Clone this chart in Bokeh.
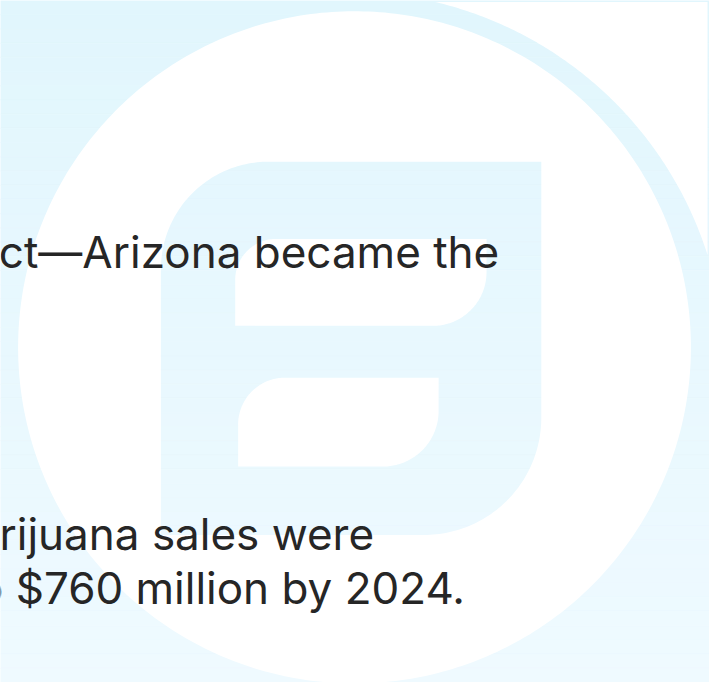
import numpy as np
from bokeh.plotting import figure
from bokeh.models import Range1d
from bokeh.core.properties import value
from bokeh.embed import file_html
from bokeh.resources import INLINE

# ---- content ----
text_lines = ["ct\u2014Arizona became the", "rijuana sales were", "o $760 million by 2024."]
text_end_x = [510, 382, 475]
text_baseline_y = [257, 546, 601]

# ---- shape parameters (reference pixel space, y downward) ----
ref_w, ref_h = 725, 698
fig_w, fig_h = 709, 682
disk_center = [362, 355]
disk_radius = 344
ring_center = [355, 377]
ring_radius = 386
corner_box = [355, 1.5, 723, 377]          # x0, y0, x1, y1 of white top-right area
a_outer = [164, 165, 553, 547, 110, 120]   # x0, y0, x1, y1, r_topleft, r_bottomright
a_hole_upper = [240, 244, 497, 333, 42, 55]
a_hole_lower = [243, 386, 448, 477, 48, 57]

BG_TOP = (225, 246, 253)
BG_BOTTOM = (239, 250, 255)
TEXT_COLOR = "#262626"
WHITE = "#ffffff"


def arc(cx, cy, r, t0, t1, n=120):
    t = np.linspace(t0, t1, n)
    return list(cx + r * np.cos(t)), list(cy + r * np.sin(t))


def circle_pts(cx, cy, r, n=400):
    return arc(cx, cy, r, 0, 2 * np.pi, n)


def rounded_rect(x0, y0, x1, y1, rtl, rbr):
    xs, ys = [x0 + rtl, x1, x1], [y0, y0, y1 - rbr]
    ax, ay = arc(x1 - rbr, y1 - rbr, rbr, 0, np.pi / 2, 60)
    xs += ax; ys += ay
    xs += [x0, x0]; ys += [y1, y0 + rtl]
    ax, ay = arc(x0 + rtl, y0 + rtl, rtl, np.pi, 1.5 * np.pi, 60)
    xs += ax; ys += ay
    return xs, ys


p = figure(width=fig_w, height=fig_h, output_backend="svg", toolbar_location=None,
           x_range=Range1d(0, ref_w), y_range=Range1d(ref_h, 0),
           min_border=0, outline_line_color=None)
p.axis.visible = False
p.grid.visible = False
p.background_fill_color = WHITE
p.border_fill_color = WHITE

# gradient background
n_bands = 48
edges = np.linspace(0, ref_h, n_bands + 1)
cols = []
for i in range(n_bands):
    f = (i + 0.5) / n_bands
    c = [int(round(BG_TOP[k] + (BG_BOTTOM[k] - BG_TOP[k]) * f)) for k in range(3)]
    cols.append("#%02x%02x%02x" % tuple(c))
p.quad(left=[0] * n_bands, right=[ref_w] * n_bands, top=list(edges[:-1]),
       bottom=list(edges[1:]), fill_color=cols, line_color=cols, line_width=0.6)

# white top-right area outside the ring
cx, cy = ring_center
r = ring_radius
bx0, by0, bx1, by1 = corner_box
t_top = -np.arcsin((cy - by0) / r)
t_right = -np.arccos((bx1 - cx) / r)
x_top = cx + r * np.cos(t_top)
y_right = cy + r * np.sin(t_right)
axs, ays = arc(cx, cy, r, t_right, t_top, 150)
tr_x = [x_top, bx1, bx1] + axs
tr_y = [by0, by0, y_right] + ays
p.patch(tr_x, tr_y, fill_color=WHITE, line_color=None)

# white disk with the "a" cut out
dx, dy = circle_pts(disk_center[0], disk_center[1], disk_radius)
ox, oy = rounded_rect(*a_outer)
p.multi_polygons(xs=[[[dx, ox]]], ys=[[[dy, oy]]], fill_color=WHITE, line_color=None)

# white counters of the "a"
for hole in (a_hole_upper, a_hole_lower):
    hx, hy = rounded_rect(*hole)
    p.patch(hx, hy, fill_color=WHITE, line_color=None)

# text
p.text(x=text_end_x, y=text_baseline_y, text=text_lines, text_align="right",
       text_baseline="alphabetic", text_font=value("Inter"), text_font_size="44px",
       text_color=TEXT_COLOR)

open("out.html", "w").write(file_html(p, INLINE))
